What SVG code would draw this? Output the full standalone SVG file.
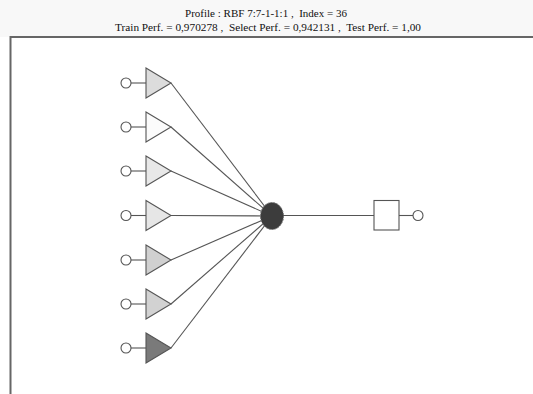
<svg xmlns="http://www.w3.org/2000/svg" width="533" height="394" viewBox="0 0 533 394">
  <style>
    .title { font-family: "Liberation Serif", "Times New Roman", serif; font-size: 11.3px; fill: #111; text-anchor: middle; white-space: pre; }
    .edge { stroke: #555; stroke-width: 1.1; fill: none; }
    .pin { fill: #fff; stroke: #555; stroke-width: 1.1; }
    .tri { stroke: #555; stroke-width: 1.1; }
  </style>
  <defs>
    <!-- input unit: input pin and stub, origin at the pin centre -->
    <g id="inUnit">
      <line class="edge" x1="5" y1="0" x2="20" y2="0"/>
      <circle class="pin" cx="0" cy="0" r="5"/>
    </g>
  </defs>

  <!-- header band -->
  <rect x="0" y="0" width="533" height="37" fill="#f8f8f8"/>
  <rect x="10" y="37" width="523" height="357" fill="#fff"/>
  <text class="title" x="266" y="17" xml:space="preserve" textLength="162" lengthAdjust="spacingAndGlyphs">Profile : RBF 7:7-1-1:1 ,  Index = 36</text>
  <text class="title" x="268" y="31" xml:space="preserve" textLength="306" lengthAdjust="spacingAndGlyphs">Train Perf. = 0,970278 ,  Select Perf. = 0,942131 ,  Test Perf. = 1,00</text>
  <!-- frame -->
  <path d="M10.5 394 V37 H533" fill="none" stroke="#666" stroke-width="2"/>

  <!-- connectors -->
  <g id="connectors">
    <line class="edge" x1="171" y1="83" x2="272" y2="216"/>
    <line class="edge" x1="171" y1="127" x2="272" y2="216"/>
    <line class="edge" x1="171" y1="171" x2="272" y2="216"/>
    <line class="edge" x1="171" y1="215.5" x2="272" y2="216"/>
    <line class="edge" x1="171" y1="260" x2="272" y2="216"/>
    <line class="edge" x1="171" y1="304" x2="272" y2="216"/>
    <line class="edge" x1="171" y1="348" x2="272" y2="216"/>
    <line class="edge" x1="272" y1="215.5" x2="374" y2="215.5"/>
    <line class="edge" x1="399" y1="215.5" x2="413" y2="215.5"/>
  </g>

  <!-- input layer -->
  <g id="in1"><use href="#inUnit" x="126" y="83"/><polygon class="tri" points="146,68 171,83 146,98" fill="#dcdcdc"/></g>
  <g id="in2"><use href="#inUnit" x="126" y="127"/><polygon class="tri" points="146,112 171,127 146,142" fill="#fbfbfb"/></g>
  <g id="in3"><use href="#inUnit" x="126" y="171"/><polygon class="tri" points="146,156 171,171 146,186" fill="#e8e8e8"/></g>
  <g id="in4"><use href="#inUnit" x="126" y="215.5"/><polygon class="tri" points="146,200.5 171,215.5 146,230.5" fill="#e6e6e6"/></g>
  <g id="in5"><use href="#inUnit" x="126" y="260"/><polygon class="tri" points="146,245 171,260 146,275" fill="#d0d0d0"/></g>
  <g id="in6"><use href="#inUnit" x="126" y="304"/><polygon class="tri" points="146,289 171,304 146,319" fill="#d2d2d2"/></g>
  <g id="in7"><use href="#inUnit" x="126" y="348"/><polygon class="tri" points="146,333 171,348 146,363" fill="#7a7a7a"/></g>

  <!-- radial hidden unit -->
  <g id="hidden1">
    <ellipse cx="272" cy="216" rx="11.5" ry="13.5" fill="#3c3c3c" stroke="#777" stroke-width="1" stroke-dasharray="2 1"/>
  </g>

  <!-- output unit -->
  <g id="out1">
    <rect x="374" y="200.5" width="25" height="29.5" fill="#fff" stroke="#555" stroke-width="1.1"/>
    <circle class="pin" cx="418" cy="215.5" r="5"/>
  </g>
</svg>
